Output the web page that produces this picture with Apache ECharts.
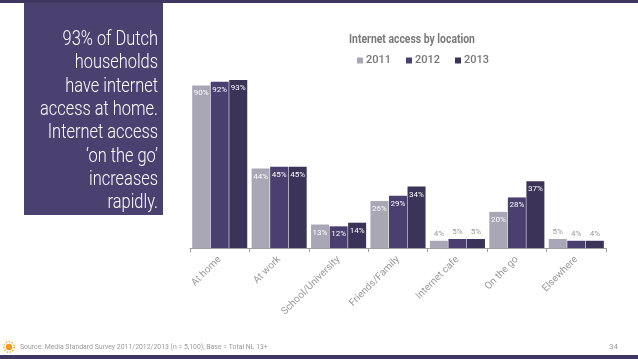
<!DOCTYPE html>
<html><head><meta charset="utf-8">
<script src="https://cdn.jsdelivr.net/npm/echarts@6/dist/echarts.min.js"></script>
<style>html,body{margin:0;padding:0;background:#fff}#c{width:638px;height:359px}</style>
</head><body><div id="c"></div>
<script>
var categories = ['At home','At work','School/University','Friends/Family','Internet cafe','On the go','Elsewhere'];
var years = ['2011','2012','2013'];
var v2011 = [90,44,13,26,4,20,5];
var v2012 = [92,45,12,29,5,28,4];
var v2013 = [93,45,14,34,5,37,4];
var colors = ['#a9a6b6','#4b3f70','#3b3358'];
var FONT = "Roboto,'Liberation Sans',sans-serif";
var sideText = ['93% of Dutch','households','have internet','access at home.','Internet access','\u2018on the go\u2019','increases','rapidly.'];

function mk(vals){
  return vals.map(function(v){
    if(v < 10){
      return {value:v, label:{position:'top', color:'#9a9a9a', distance:3}};
    }
    return v;
  });
}
var all=[v2011,v2012,v2013];
var series = years.map(function(y,i){
  return {
    name:y, type:'bar', data:mk(all[i]), barWidth:18, barGap:'3%',
    itemStyle:{color:colors[i]},
    label:{show:true, position:'insideTop', distance:4, formatter:'{c}%', color:'#ffffff', fontSize:8, fontFamily:FONT},
    animation:false
  };
});

var sideChildren = sideText.map(function(t,i){
  return {type:'text', x:0, y:40+i*23.3, style:{text:t, fill:'#ffffff', font:'300 20px '+FONT, textAlign:'right', textVerticalAlign:'middle'}};
});

var graphics = [
  {type:'rect', shape:{x:0,y:0,width:638,height:3}, style:{fill:'#3f3760'}},
  {type:'rect', shape:{x:0,y:355,width:638,height:4}, style:{fill:'#3f3760'}},
  {type:'rect', shape:{x:24,y:3,width:139,height:212}, style:{fill:'#4a4170'}},
  {type:'group', x:158, y:0, scaleX:0.82, children:sideChildren},
  {type:'text', x:412, y:40, scaleX:0.8, style:{text:'Internet access by location', fill:'#7a7a7a', font:'bold 13px '+FONT, textAlign:'center', textVerticalAlign:'middle'}},
  {type:'text', x:20, y:347, scaleX:0.86, style:{text:'Source: Media Standard Survey 2011/2012/2013 (n = 5,100); Base = Total NL 13+', fill:'#9a9a9a', font:'8px '+FONT, textVerticalAlign:'middle'}},
  {type:'text', x:609, y:347, style:{text:'34', fill:'#9a9a9a', font:'8px '+FONT, textVerticalAlign:'middle'}},
  {type:'circle', shape:{cx:9,cy:347,r:3.2}, style:{fill:'#f39a1e'}},
  {type:'circle', shape:{cx:9,cy:347,r:5.3}, style:{fill:'none', stroke:'#f5b042', lineWidth:1.5, lineDash:[1.5,1.5]}}
];

var chart = echarts.init(document.getElementById('c'));
chart.setOption({
  animation:false,
  legend:{data:years, top:50, left:352, itemWidth:6, itemHeight:6, itemGap:15, icon:'rect',
    textStyle:{color:'#767676', fontSize:11, fontWeight:500, fontFamily:FONT, padding:[0,0,0,-2]}},
  grid:{left:190, right:32, top:67.4, bottom:111},
  xAxis:{type:'category', data:categories,
    axisLine:{lineStyle:{color:'#a0a0a0'}},
    axisTick:{show:true, length:4, lineStyle:{color:'#a0a0a0'}},
    axisLabel:{rotate:45, color:'#9a9a9a', fontSize:10, fontFamily:FONT, margin:10, interval:0}},
  yAxis:{type:'value', min:0, max:100, show:false},
  series:series,
  graphic:graphics
});
</script></body></html>
